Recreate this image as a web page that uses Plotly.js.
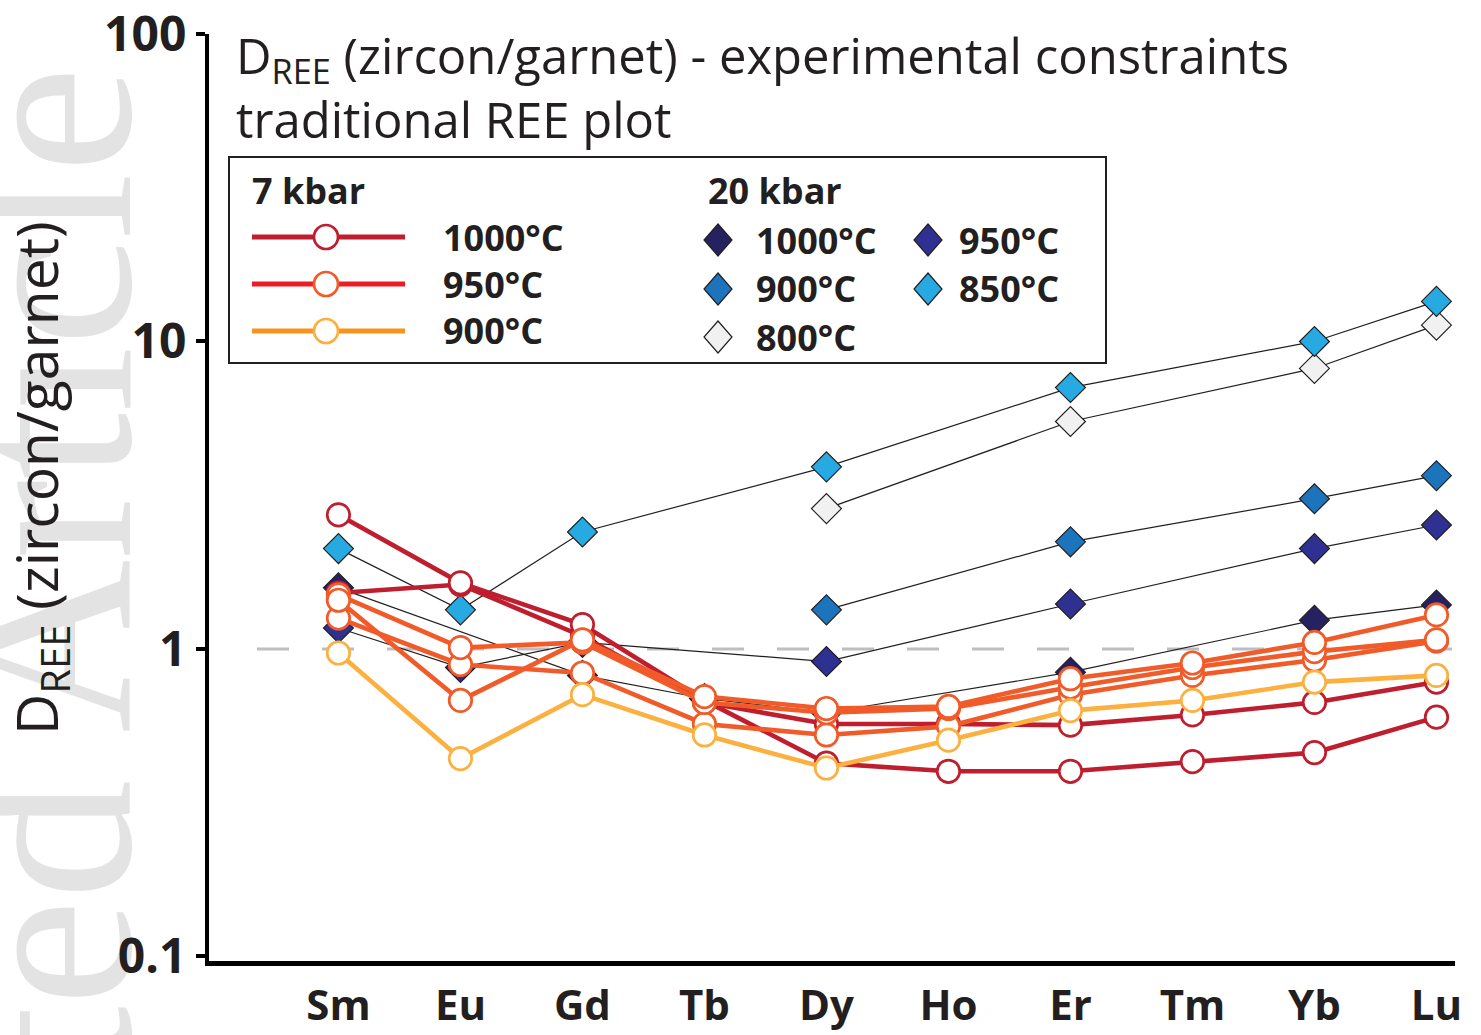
<!DOCTYPE html>
<html>
<head>
<meta charset="utf-8">
<script src="https://cdn.plot.ly/plotly-3.0.1.min.js"></script>
<style>
  html, body { margin: 0; padding: 0; background: #ffffff; }
  #chart { width: 1481px; height: 1035px; }
</style>
</head>
<body>
<div id="chart"></div>
<script>
// Rare earth elements along the x axis
const elements = ['Sm', 'Eu', 'Gd', 'Tb', 'Dy', 'Ho', 'Er', 'Tm', 'Yb', 'Lu'];

// 7 kbar experiments: D(zircon/garnet) for every element
const kbar7_1000a = [2.73, 1.64, 1.20, 0.68, 0.425, 0.40, 0.40, 0.43, 0.46, 0.60];
const kbar7_1000b = [1.52, 1.62, 1.10, 0.67, 0.57, 0.57, 0.565, 0.61, 0.67, 0.78];
const kbar7_950a  = [1.44, 0.68, 1.07, 0.70, 0.64, 0.65, 0.80, 0.90, 1.05, 1.29];
const kbar7_950b  = [1.50, 1.01, 1.05, 0.67, 0.62, 0.64, 0.75, 0.87, 0.98, 1.07];
const kbar7_950c  = [1.26, 0.89, 0.835, 0.57, 0.525, 0.56, 0.71, 0.82, 0.92, 1.06];
const kbar7_900   = [0.97, 0.44, 0.71, 0.525, 0.41, 0.505, 0.63, 0.68, 0.78, 0.82];

// 20 kbar experiments: only some elements were measured
const kbar20_1000_el = ['Sm', 'Gd', 'Tb', 'Dy', 'Er', 'Yb', 'Lu'];
const kbar20_1000    = [1.58, 0.82, 0.69, 0.62, 0.84, 1.24, 1.39];
const kbar20_950_el  = ['Sm', 'Eu', 'Gd', 'Dy', 'Er', 'Yb', 'Lu'];
const kbar20_950     = [1.17, 0.87, 1.05, 0.91, 1.40, 2.12, 2.53];
const kbar20_900_el  = ['Dy', 'Er', 'Yb', 'Lu'];
const kbar20_900     = [1.34, 2.23, 3.08, 3.66];
const kbar20_850_el  = ['Sm', 'Eu', 'Gd', 'Dy', 'Er', 'Yb', 'Lu'];
const kbar20_850     = [2.12, 1.34, 2.40, 3.91, 7.08, 10.0, 13.5];
const kbar20_800_el  = ['Dy', 'Er', 'Yb', 'Lu'];
const kbar20_800     = [2.86, 5.49, 8.17, 11.3];

// y axis ticks
const yTickVals = [0.1, 1, 10, 100];
const yTickText = ['0.1', '1', '10', '100'];

// Styling
const INK = '#231f20';
const C1000 = '#be1e2d', C950 = '#f15a29', C950L = '#ed1c24', C900 = '#fbb040', C900L = '#f7941d';
const B1000 = '#262262', B950 = '#2e3192', B900 = '#1c75bc', B850 = '#27aae1', B800 = '#f1f1f2';
const BOLD = '"Open Sans", Roboto, sans-serif';
const SANS = '"Open Sans", "Noto Sans", sans-serif';

// Plot area in page pixels, used to place the drawn legend and texts
const L = 209, R = 1455, T = 34, B = 961;
const fx = px => (px - L) / (R - L);
const fy = py => (B - py) / (B - T);

function diamondTrace(xs, ys, fill) {
  return {
    x: xs, y: ys, type: 'scatter', mode: 'lines+markers', cliponaxis: false,
    line: { color: INK, width: 1.2 },
    marker: { symbol: 'diamond', size: 23, color: fill, line: { color: INK, width: 1.2 } },
    hoverinfo: 'x+y'
  };
}
function circleTrace(ys, color) {
  return {
    x: elements, y: ys, type: 'scatter', mode: 'lines+markers', cliponaxis: false,
    line: { color: color, width: 4.6 },
    marker: { symbol: 'circle', size: 22.5, color: '#ffffff', line: { color: color, width: 2.7 } },
    hoverinfo: 'x+y'
  };
}

const traces = [
  diamondTrace(kbar20_1000_el, kbar20_1000, B1000),
  diamondTrace(kbar20_950_el, kbar20_950, B950),
  diamondTrace(kbar20_900_el, kbar20_900, B900),
  diamondTrace(kbar20_800_el, kbar20_800, B800),
  diamondTrace(kbar20_850_el, kbar20_850, B850),
  circleTrace(kbar7_1000b, C1000),
  circleTrace(kbar7_1000a, C1000),
  circleTrace(kbar7_950c, C950),
  circleTrace(kbar7_950b, C950),
  circleTrace(kbar7_950a, C950),
  circleTrace(kbar7_900, C900)
];

const shapes = [
  // journal watermark, kept behind axes and texts
  {
    type: 'rect', xref: 'paper', yref: 'paper', layer: 'below',
    x0: fx(18), x1: fx(28), y0: fy(881), y1: fy(871),
    line: { width: 0 }, fillcolor: 'rgba(0,0,0,0)',
    label: { text: 'Accepted Article', textangle: -90, textposition: 'middle center',
             font: { family: '"Liberation Serif", "DejaVu Serif", serif', size: 240, color: '#e3e3e3' } }
  },
  // reference line at D = 1
  {
    type: 'line', xref: 'paper', yref: 'y', layer: 'below',
    x0: fx(257), x1: fx(1452), y0: 1, y1: 1,
    line: { color: '#bcbec0', width: 3, dash: '32px,33px' }
  },
  // legend frame
  {
    type: 'rect', xref: 'paper', yref: 'paper', layer: 'above',
    x0: fx(229), x1: fx(1106), y0: fy(363), y1: fy(157),
    line: { color: INK, width: 2 }, fillcolor: '#ffffff'
  }
];

const legend7 = [
  { y: 237, line: C1000, edge: C1000, label: '1000°C' },
  { y: 284, line: C950L, edge: C950, label: '950°C' },
  { y: 331, line: C900L, edge: C900, label: '900°C' }
];
const legend20 = [
  { x: 718, y: 240, lx: 754, fill: B1000, label: '1000°C' },
  { x: 928, y: 240, lx: 957, fill: B950, label: '950°C' },
  { x: 718, y: 289, lx: 754, fill: B900, label: '900°C' },
  { x: 928, y: 289, lx: 957, fill: B850, label: '850°C' },
  { x: 718, y: 337, lx: 754, fill: B800, label: '800°C' }
];

const annotations = [];
const legendFont = { family: BOLD, size: 36, color: INK, weight: 700 };

annotations.push({ xref: 'paper', yref: 'paper', x: fx(250), y: fy(190), xanchor: 'left', yanchor: 'middle',
  text: '7 kbar', showarrow: false, font: legendFont });
annotations.push({ xref: 'paper', yref: 'paper', x: fx(706), y: fy(190), xanchor: 'left', yanchor: 'middle',
  text: '20 kbar', showarrow: false, font: legendFont });

legend7.forEach(k => {
  shapes.push({ type: 'line', xref: 'paper', yref: 'paper', layer: 'above',
    x0: fx(252), x1: fx(405), y0: fy(k.y), y1: fy(k.y), line: { color: k.line, width: 5 } });
  shapes.push({ type: 'circle', xref: 'paper', yref: 'paper', layer: 'above',
    x0: fx(314), x1: fx(338), y0: fy(k.y + 12), y1: fy(k.y - 12),
    fillcolor: '#ffffff', line: { color: k.edge, width: 2.7 } });
  annotations.push({ xref: 'paper', yref: 'paper', x: fx(441), y: fy(k.y), xanchor: 'left', yanchor: 'middle',
    text: k.label, showarrow: false, font: legendFont });
});

legend20.forEach(k => {
  const hw = 14, hh = 16;
  shapes.push({ type: 'path', xref: 'paper', yref: 'paper', layer: 'above',
    path: `M${fx(k.x)},${fy(k.y - hh)} L${fx(k.x + hw)},${fy(k.y)} L${fx(k.x)},${fy(k.y + hh)} L${fx(k.x - hw)},${fy(k.y)} Z`,
    fillcolor: k.fill, line: { color: INK, width: 1.2 } });
  annotations.push({ xref: 'paper', yref: 'paper', x: fx(k.lx), y: fy(k.y), xanchor: 'left', yanchor: 'middle',
    text: k.label, showarrow: false, font: legendFont });
});

// Title inside the plot area
annotations.push({ xref: 'paper', yref: 'paper', x: fx(234), y: fy(20), xanchor: 'left', yanchor: 'top', align: 'left',
  text: 'D<sub>REE</sub> (zircon/garnet) - experimental constraints<br>traditional REE plot',
  showarrow: false, font: { family: SANS, size: 49, color: INK } });

// y axis title
annotations.push({ xref: 'paper', yref: 'paper', x: fx(39), y: fy(478), xanchor: 'center', yanchor: 'middle',
  textangle: -90, text: 'D<sub>REE</sub> (zircon/garnet)', showarrow: false,
  font: { family: SANS, size: 57, color: INK } });

const layout = {
  width: 1481, height: 1035,
  margin: { l: L, r: 1481 - R, t: T, b: 1035 - B, pad: 0 },
  paper_bgcolor: '#ffffff', plot_bgcolor: '#ffffff',
  showlegend: false,
  xaxis: {
    type: 'category', categoryorder: 'array', categoryarray: elements,
    range: [-1.061, 9.152], showgrid: false, zeroline: false,
    showline: true, linecolor: '#000000', linewidth: 5,
    ticks: '', ticklabelstandoff: 4,
    tickfont: { family: BOLD, size: 42, color: INK, weight: 700 }
  },
  yaxis: {
    type: 'log', range: [-1.015, 2], showgrid: false, zeroline: false,
    tickvals: yTickVals, ticktext: yTickText, ticklabeloverflow: 'allow',
    showline: true, linecolor: '#000000', linewidth: 4,
    ticks: 'outside', ticklen: 9, tickwidth: 4, tickcolor: '#000000',
    tickfont: { family: SANS, size: 48, color: INK, weight: 700 }
  },
  shapes: shapes,
  annotations: annotations
};

Plotly.newPlot('chart', traces, layout, { displayModeBar: false, staticPlot: true });
</script>
</body>
</html>
